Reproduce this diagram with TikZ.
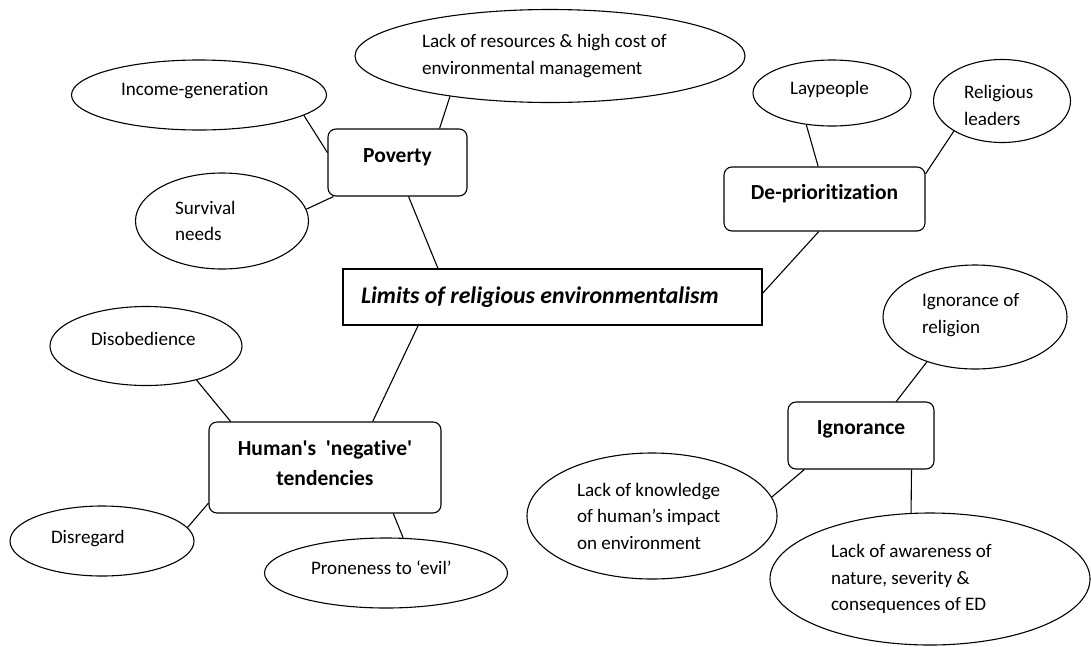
\documentclass[tikz,border=0pt]{standalone}
\usepackage{fontspec}
\setmainfont{Carlito}[Ligatures={TeX,NoCommon}]
\usetikzlibrary{shapes.geometric}

\begin{document}
\begin{tikzpicture}[x=1pt, y=-1pt, line width=1.1pt,
  every node/.style={font=\fontsize{19.1}{26.5}\selectfont}]
\tikzstyle{idea}=[ellipse, draw, inner sep=0pt, align=flush left]
\tikzstyle{theme}=[rectangle, rounded corners=8pt, draw, inner sep=0pt, align=center,
  font=\bfseries\fontsize{21.5}{30}\selectfont]
\useasboundingbox (0,0) rectangle (1091,646);

% central question
\node[draw, inner sep=0pt, minimum width=419pt, minimum height=56pt, text width=383pt, align=flush left,
  font=\bfseries\itshape\fontsize{23.8}{28}\selectfont] (main) at (552.5,297)
  {Limits of religious environmentalism};

% poverty
\node[theme, minimum width=139pt, minimum height=67pt, text depth=14pt] (pov) at (397.5,162.5) {Poverty};
\node[idea, minimum width=255pt, minimum height=70pt, text width=156pt, text depth=12pt] (inc) at (199,95)
  {Income-generation};
\node[idea, minimum width=390pt, minimum height=93pt, text width=256pt] (lack) at (550,56)
  {Lack of resources \& high cost of\\environmental management};
\node[idea, minimum width=173pt, minimum height=96pt, text width=94pt] (surv) at (222,221)
  {Survival\\needs};

% de-prioritization
\node[theme, minimum width=201pt, minimum height=64pt, text depth=15pt] (depri) at (824.5,199) {De-prioritization};
\node[idea, minimum width=158pt, minimum height=66pt, text width=84pt, text depth=10pt] (lay) at (832,93)
  {Laypeople};
\node[idea, minimum width=137pt, minimum height=83pt, text width=76pt, text depth=18pt] (rel) at (1002,101)
  {Religious\\leaders};

% ignorance
\node[theme, minimum width=146pt, minimum height=67pt, text depth=16pt] (ign) at (861,435.5) {Ignorance};
\node[idea, minimum width=184pt, minimum height=104pt, text width=106pt, text depth=34pt] (ignrel) at (975,317)
  {Ignorance of\\religion};
\node[idea, minimum width=250pt, minimum height=126pt, text width=150pt] (know) at (652,516)
  {Lack of knowledge\\of human’s impact\\on environment};
\node[idea, minimum width=320pt, minimum height=132pt, text width=198pt] (aware) at (930,579)
  {Lack of awareness of\\nature, severity \&\\consequences of ED};

% negative tendencies
\node[theme, minimum width=232pt, minimum height=91pt, text depth=10pt] (human) at (325,467.5)
  {Human\textquotesingle{}s~~\textquotesingle{}negative\textquotesingle\\tendencies};
\node[idea, minimum width=192pt, minimum height=79pt, text width=110pt, text depth=14pt] (disob) at (146,346)
  {Disobedience};
\node[idea, minimum width=184pt, minimum height=70pt, text width=102pt, text depth=8pt] (disr) at (102,541)
  {Disregard};
\node[idea, minimum width=243pt, minimum height=70pt, text width=150pt, text depth=10pt] (prone) at (386,573)
  {Proneness to ‘evil’};

% connectors
\draw (inc.-11) -- (pov.172);
\draw (lack.-158) -- (pov.39);
\draw (surv.8) -- (pov.208);
\draw (pov.-72) -- (main.166);
\draw (lay.-129) -- (depri.101);
\draw (rel.-148) -- (depri.14.5);
\draw (depri.-100) -- (main.1);
\draw (ignrel.-137) -- (ign.44.6);
\draw (ign.-149) -- (know.9.5);
\draw (ign.-34) -- (aware.106);
\draw (main.192) -- (human.44.7);
\draw (disob.-34) -- (human.154.4);
\draw (disr.9) -- (human.197.5);
\draw (human.-34) -- (prone.64);
\end{tikzpicture}
\end{document}
